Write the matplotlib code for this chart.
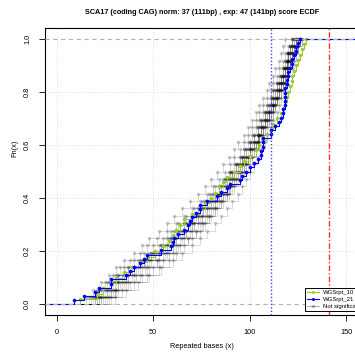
import numpy as np
import matplotlib
matplotlib.use("Agg")
import matplotlib.pyplot as plt

plt.rcParams["font.family"] = ["Liberation Sans", "DejaVu Sans"]

TITLE = "SCA17 (coding CAG) norm: 37 (111bp) , exp: 47 (141bp) score ECDF"
NORM_BP = 111
EXP_BP = 141

# repeat lengths per sample
wgsrpt_10 = [12, 21, 24, 28, 31, 35, 39, 43, 47, 51, 55, 58, 60, 62, 64, 66, 70, 74,
             77, 80, 82, 84, 86, 88, 92, 95, 97, 100, 103, 105, 107, 109, 111, 112,
             114, 116, 117, 118, 119, 120, 121, 122, 122, 123, 124, 125, 126, 127,
             128, 129]
wgsrpt_21 = [9, 14, 20, 22, 28, 28, 36, 38, 40, 43, 45, 47, 54, 59, 60, 61, 63, 66,
             68, 69, 70, 72, 74, 74, 78, 83, 85, 88, 90, 95, 96, 98, 100, 102, 104,
             106, 106, 107, 107, 107, 111, 111, 113, 115, 116, 117, 117, 118, 118,
             118, 118, 118, 119, 119, 120, 120, 121, 122, 122, 123, 124, 124, 125, 126]

not_significant = [
    [18, 22, 25, 29, 33, 38, 43, 47, 52, 57, 62, 66, 70, 74, 78, 81, 84, 87, 90, 92, 95, 97, 99, 101, 103, 105, 107, 109, 111, 112, 114, 115, 117, 118, 120, 122],
    [20, 26, 30, 35, 40, 44, 50, 55, 59, 63, 67, 71, 75, 78, 82, 85, 88, 91, 93, 96, 98, 100, 102, 104, 106, 108, 110, 111, 113, 114, 116, 117, 118, 120, 121, 123],
    [25, 30, 35, 40, 46, 52, 57, 62, 66, 70, 74, 78, 81, 84, 87, 90, 93, 95, 97, 99, 101, 103, 105, 107, 109, 110, 112, 113, 115, 116, 117, 119, 120, 121, 123, 125],
    [21, 24, 28, 32, 37, 42, 48, 54, 59, 64, 68, 72, 77, 80, 83, 86, 89, 91, 94, 96, 98, 100, 102, 104, 106, 108, 109, 111, 112, 114, 115, 117, 118, 119, 121, 124],
    [23, 28, 33, 37, 41, 45, 49, 53, 57, 61, 66, 70, 73, 77, 80, 84, 87, 90, 93, 96, 99, 101, 104, 106, 108, 110, 112, 114, 115, 117, 118, 120, 121, 123, 125, 127],
    [19, 25, 29, 34, 39, 45, 51, 56, 61, 66, 70, 74, 78, 81, 84, 87, 90, 92, 95, 97, 100, 102, 104, 106, 107, 109, 111, 112, 114, 115, 116, 118, 119, 120, 122, 123],
    [27, 31, 36, 41, 47, 53, 58, 63, 68, 72, 76, 79, 82, 85, 88, 91, 94, 96, 98, 101, 103, 104, 106, 108, 110, 111, 113, 114, 116, 117, 118, 120, 121, 122, 124, 126],
    [17, 21, 26, 31, 35, 40, 45, 50, 55, 59, 63, 67, 71, 75, 79, 82, 86, 89, 92, 95, 97, 100, 102, 104, 106, 108, 110, 112, 113, 115, 117, 118, 120, 121, 123, 125],
    [22, 26, 31, 36, 42, 47, 53, 58, 62, 67, 71, 75, 78, 82, 85, 88, 91, 93, 96, 98, 100, 102, 104, 106, 108, 109, 111, 112, 114, 115, 116, 118, 119, 120, 121, 122],
    [24, 29, 34, 39, 44, 49, 55, 60, 65, 69, 73, 77, 80, 83, 86, 89, 92, 95, 97, 99, 102, 104, 106, 108, 110, 112, 113, 115, 116, 118, 119, 121, 122, 124, 125, 127],
    [20, 23, 27, 32, 37, 43, 49, 54, 58, 62, 66, 70, 73, 77, 81, 84, 87, 90, 93, 95, 97, 99, 101, 103, 105, 107, 109, 111, 112, 114, 116, 117, 119, 120, 122, 124],
    [26, 32, 38, 44, 50, 55, 60, 64, 68, 72, 75, 79, 82, 85, 88, 90, 93, 95, 98, 100, 102, 104, 105, 107, 109, 110, 112, 113, 115, 116, 117, 119, 120, 122, 123, 125],
    [21, 27, 32, 36, 40, 46, 51, 57, 62, 66, 71, 75, 79, 82, 86, 89, 92, 94, 97, 99, 101, 103, 105, 107, 108, 110, 111, 113, 114, 116, 117, 118, 119, 121, 122, 124],
    [23, 28, 32, 37, 43, 48, 53, 57, 61, 65, 69, 73, 76, 79, 82, 85, 88, 91, 94, 97, 100, 103, 105, 107, 109, 111, 112, 114, 115, 117, 118, 119, 121, 122, 124, 126],
    [28, 34, 40, 47, 54, 60, 65, 70, 74, 78, 82, 85, 88, 91, 94, 96, 98, 100, 102, 104, 106, 108, 109, 111, 112, 114, 115, 116, 117, 118, 119, 120, 121, 122, 123, 124],
    [15, 19, 23, 27, 31, 35, 40, 44, 48, 53, 57, 61, 65, 69, 73, 77, 80, 83, 86, 89, 92, 94, 97, 99, 101, 103, 105, 107, 109, 110, 112, 113, 115, 116, 117, 118],
    [22, 30, 37, 43, 48, 52, 56, 60, 64, 67, 70, 73, 76, 80, 84, 88, 91, 94, 96, 98, 100, 102, 104, 106, 108, 110, 112, 114, 116, 118, 120, 122, 123, 124, 125, 126],
    [30, 36, 42, 48, 53, 58, 62, 66, 70, 74, 77, 80, 83, 86, 89, 92, 95, 97, 99, 101, 103, 105, 107, 109, 111, 112, 113, 114, 115, 116, 117, 118, 119, 120, 121, 122],
]

XLIM = (-6, 156)
YLIM = (-0.04, 1.04)
GRAY = (0.0, 0.0, 0.0, 0.2)


def draw_ecdf(ax, values, color, lw, ms, z):
    x = np.sort(np.asarray(values, dtype=float))
    y = np.arange(1, len(x) + 1) / len(x)
    xs = np.concatenate([[XLIM[0] - 10], x, [XLIM[1] + 10]])
    ys = np.concatenate([[0.0], y, [1.0]])
    ax.step(xs, ys, where="post", color=color, lw=lw, zorder=z)
    ax.plot(x, y, "o", color=color, ms=ms, mew=0, zorder=z)


fig = plt.figure(figsize=(3.55, 3.56), dpi=100)
ax = fig.add_axes([45 / 355, 41 / 356, 313 / 355, 287 / 356])

for s in not_significant:
    draw_ecdf(ax, s, GRAY, 0.5, 2.6, 3)
draw_ecdf(ax, wgsrpt_10, "#9ACD32", 0.8, 2.6, 3.5)
draw_ecdf(ax, wgsrpt_21, "#0000FF", 0.8, 2.6, 3.6)

# grid
for gx in [0, 50, 100, 150]:
    ax.axvline(gx, color="#d3d3d3", lw=0.6, ls=(0, (1, 2)), zorder=1)
for gy in [0.2, 0.4, 0.6, 0.8]:
    ax.axhline(gy, color="#d3d3d3", lw=0.6, ls=(0, (1, 2)), zorder=1)
for gy in [0.0, 1.0]:
    ax.axhline(gy, color="#b3b3b3", lw=0.8, ls=(0, (4, 3)), zorder=4)

# normal / expanded thresholds
ax.axvline(NORM_BP, color="#4040ff", lw=1.0, ls=(0, (1, 1.5)), zorder=5)
ax.axvline(EXP_BP, color="#ff3030", lw=1.0, ls=(0, (4, 1.5, 1, 1.5)), zorder=5)

ax.set_xlim(*XLIM)
ax.set_ylim(*YLIM)
ax.set_xticks([0, 50, 100, 150])
ax.set_yticks([0.0, 0.2, 0.4, 0.6, 0.8, 1.0])
ax.set_yticklabels(["0.0", "0.2", "0.4", "0.6", "0.8", "1.0"], rotation=90, va="center")
ax.tick_params(direction="out", length=4, width=0.6, labelsize=5.3, pad=6)
for sp in ax.spines.values():
    sp.set_linewidth(0.8)

fig.text(202 / 355, 1 - 12 / 356, TITLE, ha="center", va="center",
         fontsize=5.2, fontweight="bold")
fig.text(202 / 355, 1 - 347 / 356, "Repeated bases (x)", ha="center", va="center",
         fontsize=5.3)
fig.text(15 / 355, 1 - 148 / 356, "Fn(x)", ha="center", va="center",
         fontsize=5.3, rotation=90)

handles = [
    plt.Line2D([], [], color="#9ACD32", lw=0.8, marker="o", ms=2.2, mew=0),
    plt.Line2D([], [], color="#0000FF", lw=0.8, marker="o", ms=2.2, mew=0),
    plt.Line2D([], [], color=(0, 0, 0, 0.3), lw=0.8, marker="o", ms=2.2, mew=0),
]
leg = fig.legend(handles, ["WGSrpt_10", "WGSrpt_21", "Not significant"],
                 loc="upper left", bbox_to_anchor=(305 / 355, 1 - 288 / 356),
                 fontsize=4.3, handlelength=2.0, handletextpad=0.6,
                 borderpad=0.35, labelspacing=0.25, borderaxespad=0,
                 fancybox=False, framealpha=1, edgecolor="black")
leg.get_frame().set_linewidth(0.7)

fig.savefig("out.png", dpi=100)
